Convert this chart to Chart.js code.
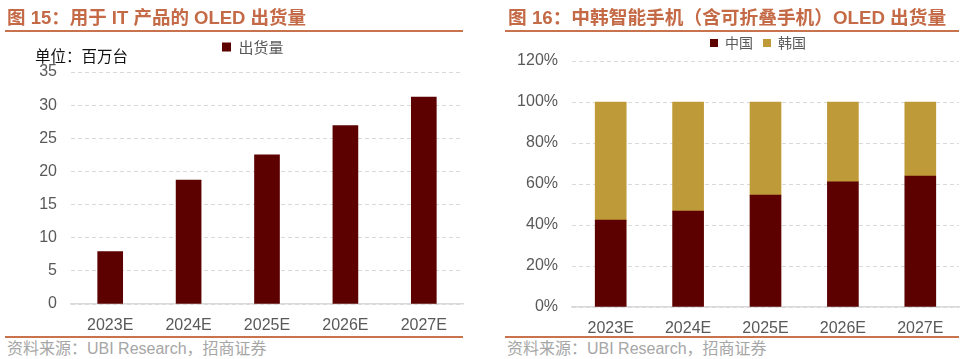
<!DOCTYPE html>
<html><head><meta charset="utf-8">
<script src="https://cdn.jsdelivr.net/npm/chart.js@4"></script>
<style>
body{margin:0;width:966px;height:359px;position:relative;background:#fff;overflow:hidden;font-family:"Liberation Sans","Noto Sans CJK SC",sans-serif}
.t{position:absolute;top:8px;font-weight:bold;font-size:18.5px;color:#C46A46;line-height:20px;white-space:nowrap}
.ln{position:absolute;height:2px;background:#C8734E}
.src{position:absolute;top:340px;font-size:16px;color:#A6A6A6;white-space:nowrap;line-height:18px}
.unit{position:absolute;left:35px;top:46px;font-size:15.5px;color:#111;line-height:18px;font-family:"Noto Sans CJK SC",sans-serif;white-space:nowrap}
canvas{position:absolute}
</style></head>
<body>
<canvas id="c1" width="475" height="320" style="left:0;top:20px"></canvas>
<canvas id="c2" width="480" height="320" style="left:486px;top:20px"></canvas>
<div class="t" style="left:7px">图 15：用于 IT 产品的 OLED 出货量</div>
<div class="ln" style="left:5px;top:30px;width:458px"></div>
<div class="t" style="left:508px;font-size:18.7px">图 16：中韩智能手机（含可折叠手机）OLED 出货量</div>
<div class="ln" style="left:505px;top:30px;width:454px"></div>
<div class="unit">单位：百万台</div>
<div class="ln" style="left:5px;top:336px;width:458px"></div>
<div class="ln" style="left:505px;top:336px;width:454px"></div>
<div class="src" style="left:7px">资料来源：UBI Research，招商证券</div>
<div class="src" style="left:507px">资料来源：UBI Research，招商证券</div>
<script>
const categories = ['2023E', '2024E', '2025E', '2026E', '2027E'];
const shipmentLabel = '出货量';
const shipments = [7.9, 18.7, 22.5, 26.9, 31.2];
const chinaLabel = '中国';
const koreaLabel = '韩国';
const chinaShare = [42.4, 46.8, 54.6, 61.0, 63.9];
const koreaShare = [57.6, 53.2, 45.4, 39.0, 36.1];
const leftYMax = 35, leftYStep = 5;
const rightYMax = 120, rightYStep = 20;

const MAROON = '#5C0000', GOLD = '#BF9A38', TICK = '#595959', GRID = '#D9D9D9';
const tickFont = {family: '"Liberation Sans", Arial, sans-serif', size: 16};

function legendPlace(extra, center) {
  return {id: 'legendPlace',
    beforeInit(chart) {
      const f = chart.legend.fit;
      chart.legend.fit = function () { f.call(this); this.height += extra; };
    },
    afterLayout(chart) {
      const L = chart.legend;
      const w = L.right - L.left;
      L.left = center - w / 2;
      L.right = center + w / 2;
    }
  };
}

function scales(yMax, yStep, yWidth, pct) {
  return {
    x: {
      grid: {display: false},
      border: {display: true, color: GRID, width: 1.5},
      ticks: {color: TICK, font: tickFont, padding: 4, maxRotation: 0},
      afterFit(s) { s.height = 30; },
      stacked: true
    },
    y: {
      min: 0, max: yMax,
      stacked: true,
      grid: {color: GRID, lineWidth: 1, drawTicks: false},
      border: {display: false, dash: [4, 3]},
      ticks: {stepSize: yStep, color: TICK, font: tickFont, padding: 14,
        callback: v => pct ? v + '%' : v},
      afterFit(s) { s.width = yWidth; }
    }
  };
}

new Chart(document.getElementById('c1'), {
  type: 'bar',
  data: {labels: categories, datasets: [
    {label: shipmentLabel, data: shipments, backgroundColor: MAROON, borderWidth: 0, barThickness: 25}
  ]},
  options: {
    responsive: false, animation: false,
    layout: {padding: {left: 0, right: 12, top: 9.5, bottom: 6}},
    plugins: {
      legend: {position: 'top', labels: {boxWidth: 9, boxHeight: 9, padding: 10, color: TICK,
        font: {family: '"Noto Sans CJK SC", sans-serif', size: 15}}},
      tooltip: {enabled: false}
    },
    scales: scales(leftYMax, leftYStep, 71, false)
  },
  plugins: [legendPlace(7.5, 252.75)]
});

new Chart(document.getElementById('c2'), {
  type: 'bar',
  data: {labels: categories, datasets: [
    {label: chinaLabel, data: chinaShare, backgroundColor: MAROON, borderWidth: 0, barThickness: 31},
    {label: koreaLabel, data: koreaShare, backgroundColor: GOLD, borderWidth: 0, barThickness: 31}
  ]},
  options: {
    responsive: false, animation: false,
    layout: {padding: {left: 0, right: 7, top: 6, bottom: 3}},
    plugins: {
      legend: {position: 'top', labels: {boxWidth: 8, boxHeight: 8, padding: 10, color: TICK,
        font: {family: '"Noto Sans CJK SC", sans-serif', size: 14}}},
      tooltip: {enabled: false}
    },
    scales: scales(rightYMax, rightYStep, 86, true)
  },
  plugins: [legendPlace(1, 272)]
});
</script>
</body></html>
